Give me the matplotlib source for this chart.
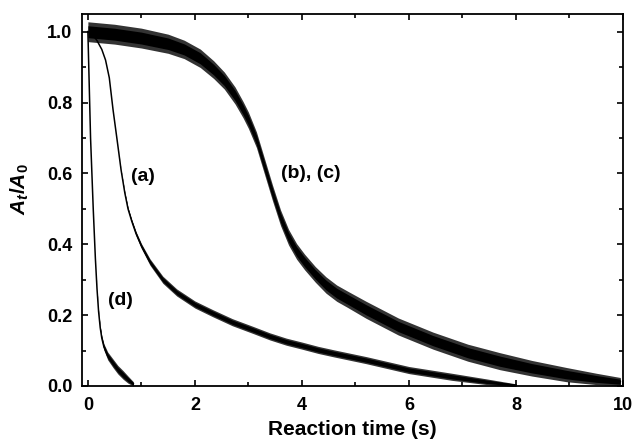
import numpy as np
import matplotlib
matplotlib.use("Agg")
import matplotlib.pyplot as plt
from matplotlib.ticker import MultipleLocator, FormatStrFormatter

plt.rcParams["font.family"] = ["Liberation Sans", "DejaVu Sans"]
plt.rcParams["font.weight"] = "bold"
plt.rcParams["mathtext.fontset"] = "custom"
plt.rcParams["mathtext.bf"] = "Liberation Sans:bold"
plt.rcParams["mathtext.bfit"] = "Liberation Sans:italic:bold"

# curve (a)
t_a = [0, 0.1, 0.17, 0.26, 0.33, 0.4, 0.47, 0.55, 0.62, 0.69, 0.75, 0.82,
       0.9, 1.0, 1.16, 1.4, 1.66, 2.0, 2.34, 2.7, 3.09, 3.4, 3.71, 4.0, 4.3,
       4.6, 5.2, 6.0, 6.8, 7.45, 8.0]
y_a = [1.0, 0.99, 0.975, 0.95, 0.92, 0.87, 0.78, 0.69, 0.61, 0.545, 0.50,
       0.465, 0.43, 0.395, 0.35, 0.30, 0.264, 0.23, 0.205, 0.18, 0.158, 0.14,
       0.125, 0.114, 0.102, 0.092, 0.073, 0.045, 0.026, 0.012, 0.002]
w_a = [0, 0, 0, 0, 0, 0, 0, 0, 0.001, 0.003, 0.004, 0.005, 0.006, 0.007,
       0.009, 0.01, 0.01, 0.01, 0.01, 0.01, 0.01, 0.01, 0.01, 0.01, 0.01,
       0.01, 0.01, 0.01, 0.01, 0.008, 0.004]

# curves (b), (c)
t_b = [0, 0.5, 1.0, 1.5, 1.8, 2.1, 2.35, 2.55, 2.75, 2.9, 3.0, 3.15, 3.3,
       3.45, 3.6, 3.75, 3.9, 4.05, 4.25, 4.45, 4.65, 4.85, 5.2, 5.8, 6.45,
       7.1, 7.7, 8.3, 8.95, 9.5, 9.95]
y_b = [1.0, 0.993, 0.982, 0.966, 0.95, 0.925, 0.893, 0.862, 0.82, 0.78, 0.75,
       0.695, 0.62, 0.545, 0.475, 0.42, 0.38, 0.35, 0.315, 0.285, 0.262,
       0.245, 0.215, 0.168, 0.128, 0.094, 0.07, 0.05, 0.032, 0.02, 0.012]
w_b = [0.028, 0.028, 0.028, 0.027, 0.026, 0.026, 0.025, 0.024, 0.024, 0.023,
       0.023, 0.022, 0.022, 0.022, 0.022, 0.022, 0.022, 0.022, 0.022, 0.023,
       0.023, 0.023, 0.024, 0.024, 0.024, 0.024, 0.024, 0.022, 0.02, 0.016,
       0.012]

# curve (d)
t_d = [0, 0.02, 0.05, 0.1, 0.14, 0.17, 0.2, 0.23, 0.26, 0.3, 0.37, 0.47,
       0.56, 0.66, 0.75, 0.85]
y_d = [1.0, 0.88, 0.70, 0.50, 0.36, 0.275, 0.21, 0.165, 0.135, 0.11, 0.085,
       0.064, 0.046, 0.031, 0.018, 0.006]
w_d = [0, 0, 0, 0, 0, 0.002, 0.003, 0.005, 0.007, 0.009, 0.011, 0.012,
       0.012, 0.012, 0.01, 0.006]

labels = ["(a)", "(b), (c)", "(d)"]
label_xy = [(1.02, 0.59), (4.17, 0.60), (0.6, 0.24)]

fig = plt.figure(figsize=(6.33, 4.43), dpi=100)
ax = fig.add_axes([82 / 633, 57 / 443, 541 / 633, 372 / 443])

for t, y, w in [(t_b, y_b, w_b), (t_a, y_a, w_a), (t_d, y_d, w_d)]:
    t, y, w = np.array(t), np.array(y), np.array(w)
    ax.fill_between(t, y - w, y + w, color="0.2", lw=0)
    ax.fill_between(t, y - w * 0.6, y + w * 0.6, color="black", lw=0)
    ax.plot(t, y, color="black", lw=1.1)

for txt, (x, y) in zip(labels, label_xy):
    ax.text(x, y, txt, fontsize=14, fontweight="bold", ha="center", va="center")

ax.set_xlim(-0.11, 10)
ax.set_ylim(0, 1.05)
ax.xaxis.set_major_locator(MultipleLocator(2))
ax.xaxis.set_minor_locator(MultipleLocator(1))
ax.yaxis.set_major_locator(MultipleLocator(0.2))
ax.yaxis.set_minor_locator(MultipleLocator(0.1))
ax.yaxis.set_major_formatter(FormatStrFormatter("%.1f"))
ax.tick_params(which="both", direction="in", top=True, right=True, width=1.2)
ax.tick_params(which="major", length=4.5, labelsize=13)
ax.tick_params(axis="x", which="major", pad=8)
ax.tick_params(axis="y", which="major", pad=7)
ax.tick_params(which="minor", length=3)
for s in ax.spines.values():
    s.set_linewidth(1.3)

ax.set_xlabel("Reaction time (s)", fontsize=15, fontweight="bold", labelpad=4)
ax.set_ylabel(r"$\mathbfit{A}_{\mathbfit{t}}\mathbf{/}\mathbfit{A}_{\mathbf{0}}$",
              fontsize=15)
ax.yaxis.set_label_coords(-0.095, 0.53)

fig.savefig("out.png", dpi=100)
